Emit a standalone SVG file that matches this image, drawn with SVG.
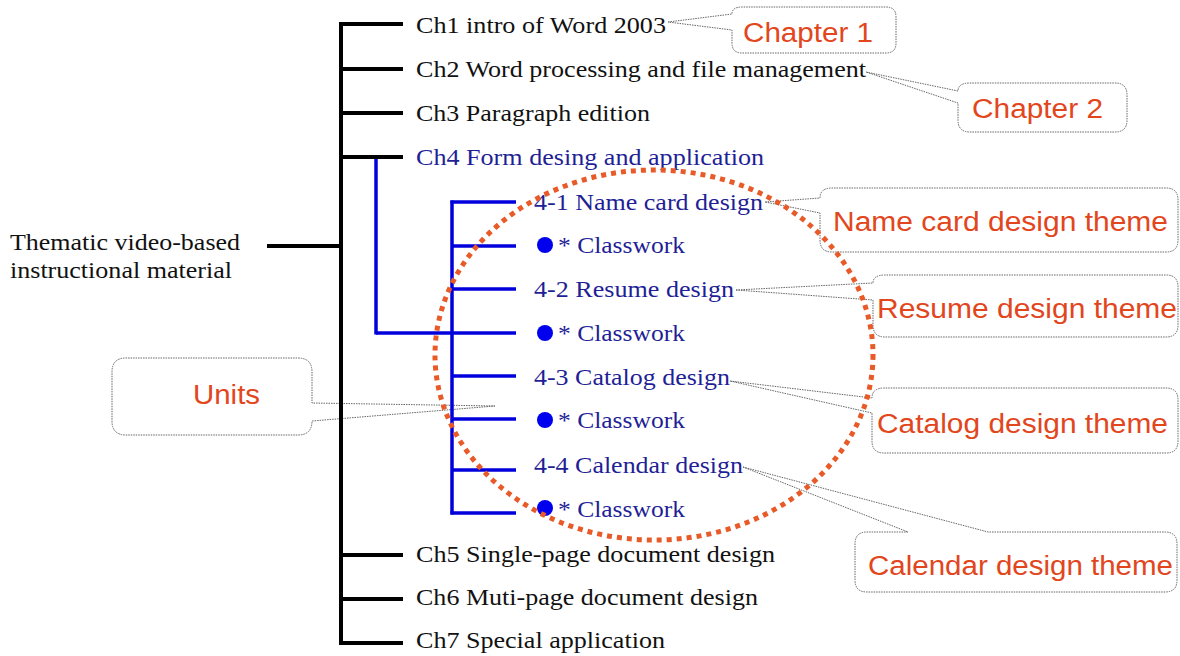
<svg xmlns="http://www.w3.org/2000/svg" width="1180" height="656" viewBox="0 0 1180 656">
<style>
.bg{fill:#fff}
.t{font-family:"Liberation Serif","Times New Roman",serif;font-size:23.5px;fill:#111}
.tb{font-family:"Liberation Serif","Times New Roman",serif;font-size:23.5px;fill:#1f1f96}
.c{font-family:"Liberation Sans",Arial,sans-serif;font-size:27px;fill:#e2461c}
.co{fill:#fff;stroke:#666;stroke-width:1;stroke-dasharray:1.5 1}
.lk{stroke:#000;stroke-width:4;fill:none}
.lb{stroke:#0000dd;stroke-width:3.5;fill:none}
.dot{fill:#0000ee}
.ring{fill:none;stroke:#e85a28;stroke-width:5;stroke-dasharray:5 5}
</style>
<rect class="bg" x="0" y="0" width="1180" height="656"/>

<g id="callouts">
<g id="callout-chapter1">
<path class="co" d="M668,22 L732,14 Q732,7 742,7 L886,7 Q896,7 896,17 L896,43 Q896,53 886,53 L742,53 Q732,53 732,43 L732,30 Z"/>
<text class="c" x="743" y="42" textLength="130" lengthAdjust="spacingAndGlyphs">Chapter 1</text>
</g>
<g id="callout-chapter2">
<path class="co" d="M866,72 L958,91 Q958,83 970,83 L1115,83 Q1127,83 1127,95 L1127,120 Q1127,132 1115,132 L970,132 Q958,132 958,120 L958,103 Z"/>
<text class="c" x="972" y="118" textLength="131" lengthAdjust="spacingAndGlyphs">Chapter 2</text>
</g>
<g id="callout-namecard">
<path class="co" d="M765,202 L820,198 Q820,188 832,188 L1166,188 Q1178,188 1178,200 L1178,240 Q1178,252 1166,252 L832,252 Q820,252 820,240 L820,213 Z"/>
<text class="c" x="833" y="231" textLength="335" lengthAdjust="spacingAndGlyphs">Name card design theme</text>
</g>
<g id="callout-resume">
<path class="co" d="M736,290 L873,283 Q873,275 885,275 L1166,275 Q1178,275 1178,287 L1178,325 Q1178,337 1166,337 L885,337 Q873,337 873,325 L873,300 Z"/>
<text class="c" x="877" y="318" textLength="300" lengthAdjust="spacingAndGlyphs">Resume design theme</text>
</g>
<g id="callout-catalog">
<path class="co" d="M730,381 L872,398 Q872,388 884,388 L1166,388 Q1178,388 1178,400 L1178,441 Q1178,453 1166,453 L884,453 Q872,453 872,441 L872,413 Z"/>
<text class="c" x="877" y="433" textLength="291" lengthAdjust="spacingAndGlyphs">Catalog design theme</text>
</g>
<g id="callout-calendar">
<path class="co" d="M743,467 L988,532 L1165,532 Q1177,532 1177,544 L1177,580 Q1177,592 1165,592 L867,592 Q855,592 855,580 L855,544 Q855,532 867,532 L908,532 Z"/>
<text class="c" x="868" y="575" textLength="305" lengthAdjust="spacingAndGlyphs">Calendar design theme</text>
</g>
<g id="callout-units">
<path class="co" d="M495,406 L312,403 L312,372 Q312,358 298,358 L126,358 Q112,358 112,372 L112,421 Q112,435 126,435 L298,435 Q312,435 312,421 Z"/>
<text class="c" x="193" y="404" textLength="67" lengthAdjust="spacingAndGlyphs">Units</text>
</g>
</g>

<g id="connectors">
<line class="lk" x1="267" y1="246" x2="341" y2="246"/>
<line class="lk" x1="341" y1="22" x2="341" y2="645"/>
<line class="lk" x1="339" y1="24" x2="403" y2="24"/>
<line class="lk" x1="341" y1="69" x2="403" y2="69"/>
<line class="lk" x1="341" y1="113" x2="403" y2="113"/>
<line class="lk" x1="341" y1="157" x2="403" y2="157"/>
<line class="lk" x1="341" y1="555" x2="403" y2="555"/>
<line class="lk" x1="341" y1="599" x2="403" y2="599"/>
<line class="lk" x1="339" y1="643" x2="403" y2="643"/>
<line class="lb" x1="376" y1="159" x2="376" y2="334.5"/>
<line class="lb" x1="376" y1="333" x2="452" y2="333"/>
<line class="lb" x1="452" y1="200.5" x2="452" y2="514.5"/>
<line class="lb" x1="450.5" y1="202" x2="516" y2="202"/>
<line class="lb" x1="452" y1="246" x2="516" y2="246"/>
<line class="lb" x1="452" y1="289" x2="516" y2="289"/>
<line class="lb" x1="452" y1="333" x2="516" y2="333"/>
<line class="lb" x1="452" y1="376" x2="516" y2="376"/>
<line class="lb" x1="452" y1="419" x2="516" y2="419"/>
<line class="lb" x1="452" y1="470" x2="516" y2="470"/>
<line class="lb" x1="450.5" y1="513" x2="516" y2="513"/>
</g>

<g id="root">
<text class="t" x="10" y="250" textLength="230" lengthAdjust="spacingAndGlyphs">Thematic video-based</text>
<text class="t" x="10" y="278" textLength="222" lengthAdjust="spacingAndGlyphs">instructional material</text>
</g>
<g id="ch1"><text class="t" x="416" y="33" textLength="250" lengthAdjust="spacingAndGlyphs">Ch1 intro of Word 2003</text></g>
<g id="ch2"><text class="t" x="416" y="77" textLength="450" lengthAdjust="spacingAndGlyphs">Ch2 Word processing and file management</text></g>
<g id="ch3"><text class="t" x="416" y="121" textLength="234" lengthAdjust="spacingAndGlyphs">Ch3 Paragraph edition</text></g>
<g id="ch4"><text class="tb" x="416" y="165" textLength="348" lengthAdjust="spacingAndGlyphs">Ch4 Form desing and application</text></g>
<g id="u41"><text class="tb" x="534" y="210" textLength="229" lengthAdjust="spacingAndGlyphs">4-1 Name card design</text></g>
<g id="cw1"><circle class="dot" cx="545" cy="245" r="8"/><text class="tb" x="558" y="253" textLength="127" lengthAdjust="spacingAndGlyphs">* Classwork</text></g>
<g id="u42"><text class="tb" x="534" y="297" textLength="200" lengthAdjust="spacingAndGlyphs">4-2 Resume design</text></g>
<g id="cw2"><circle class="dot" cx="545" cy="333" r="8"/><text class="tb" x="558" y="341" textLength="127" lengthAdjust="spacingAndGlyphs">* Classwork</text></g>
<g id="u43"><text class="tb" x="534" y="385" textLength="196" lengthAdjust="spacingAndGlyphs">4-3 Catalog design</text></g>
<g id="cw3"><circle class="dot" cx="545" cy="420" r="8"/><text class="tb" x="558" y="428" textLength="127" lengthAdjust="spacingAndGlyphs">* Classwork</text></g>
<g id="u44"><text class="tb" x="534" y="473" textLength="209" lengthAdjust="spacingAndGlyphs">4-4 Calendar design</text></g>
<g id="cw4"><circle class="dot" cx="545" cy="508" r="8"/><text class="tb" x="558" y="517" textLength="127" lengthAdjust="spacingAndGlyphs">* Classwork</text></g>
<g id="ch5"><text class="t" x="416" y="562" textLength="359" lengthAdjust="spacingAndGlyphs">Ch5 Single-page document design</text></g>
<g id="ch6"><text class="t" x="416" y="605" textLength="342" lengthAdjust="spacingAndGlyphs">Ch6 Muti-page document design</text></g>
<g id="ch7"><text class="t" x="416" y="648" textLength="249" lengthAdjust="spacingAndGlyphs">Ch7 Special application</text></g>

<g id="unit-ring"><ellipse class="ring" cx="654" cy="355" rx="219" ry="185"/></g>
</svg>
